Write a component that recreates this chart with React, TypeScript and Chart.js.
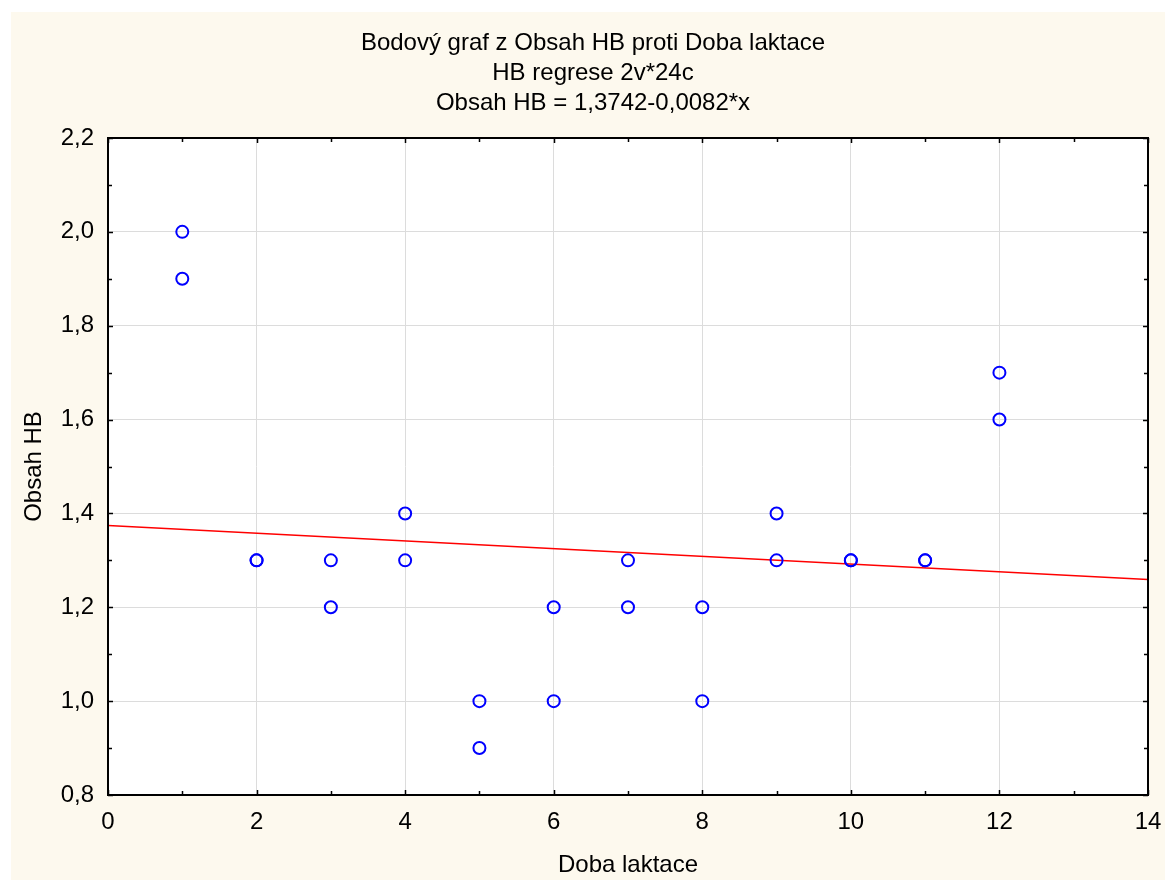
import React, { useEffect, useRef } from "react";
import { Chart, registerables } from "chart.js";

Chart.register(...registerables);

const titleLines = [
  "Bodový graf z Obsah HB proti Doba laktace",
  "HB regrese 2v*24c",
  "Obsah HB = 1,3742-0,0082*x",
];
const xAxisTitle = "Doba laktace";
const yAxisTitle = "Obsah HB";

const dobaLaktace = [1, 1, 2, 2, 3, 3, 4, 4, 5, 5, 6, 6, 7, 7, 8, 8, 9, 9, 10, 10, 11, 11, 12, 12];
const obsahHB = [2.0, 1.9, 1.3, 1.3, 1.3, 1.2, 1.4, 1.3, 1.0, 0.9, 1.2, 1.0, 1.3, 1.2, 1.2, 1.0, 1.4, 1.3, 1.3, 1.3, 1.3, 1.3, 1.7, 1.6];

const regresX = [0, 14];
const regresY = [1.3742, 1.2594];

const xTicks = [0, 2, 4, 6, 8, 10, 12, 14];
const yTicks = [0.8, 1.0, 1.2, 1.4, 1.6, 1.8, 2.0, 2.2];
const xMinorTicks = [1, 3, 5, 7, 9, 11, 13];
const yMinorTicks = [0.9, 1.1, 1.3, 1.5, 1.7, 1.9, 2.1];

const FONT = "Arial, 'Liberation Sans', sans-serif";

const framePlugin = {
  id: "frame",
  beforeDraw(chart: any) {
    const { ctx, chartArea: a } = chart;
    ctx.save();
    ctx.fillStyle = "#ffffff";
    ctx.fillRect(a.left, a.top, a.right - a.left, a.bottom - a.top);
    ctx.restore();
  },
  afterDraw(chart: any) {
    const { ctx, chartArea: a, scales } = chart;
    const xs = scales.x;
    const ys = scales.y;
    ctx.save();
    ctx.strokeStyle = "#000000";
    ctx.lineWidth = 1.5;
    ctx.beginPath();
    const xTick = (v: number, len: number) => {
      const px = Math.round(xs.getPixelForValue(v)) + 0.5;
      ctx.moveTo(px, a.bottom);
      ctx.lineTo(px, a.bottom - len);
      ctx.moveTo(px, a.top);
      ctx.lineTo(px, a.top + len);
    };
    const yTick = (v: number, len: number) => {
      const py = Math.round(ys.getPixelForValue(v)) + 0.5;
      ctx.moveTo(a.left, py);
      ctx.lineTo(a.left + len, py);
      ctx.moveTo(a.right, py);
      ctx.lineTo(a.right - len, py);
    };
    xTicks.forEach((v) => xTick(v, 5));
    xMinorTicks.forEach((v) => xTick(v, 4));
    yTicks.forEach((v) => yTick(v, 5));
    yMinorTicks.forEach((v) => yTick(v, 4));
    ctx.stroke();
    ctx.lineWidth = 2;
    ctx.strokeRect(a.left, a.top, a.right - a.left, a.bottom - a.top);
    ctx.restore();
  },
};

export default function App() {
  const canvasRef = useRef<HTMLCanvasElement | null>(null);

  useEffect(() => {
    if (!canvasRef.current) return;
    const chart = new Chart(canvasRef.current, {
      type: "scatter",
      data: {
        datasets: [
          {
            label: "Obsah HB",
            data: dobaLaktace.map((x, i) => ({ x, y: obsahHB[i] })),
            pointStyle: "circle",
            pointRadius: 6,
            pointBorderWidth: 2,
            pointBorderColor: "#0000ff",
            pointBackgroundColor: "rgba(0,0,0,0)",
            borderColor: "#0000ff",
            backgroundColor: "rgba(0,0,0,0)",
            order: 0,
          },
          {
            label: "Regrese",
            data: regresX.map((x, i) => ({ x, y: regresY[i] })),
            showLine: true,
            borderColor: "#ff0000",
            borderWidth: 1.5,
            pointRadius: 0,
            fill: false,
            order: 1,
          } as any,
        ],
      },
      options: {
        responsive: false,
        animation: false,
        devicePixelRatio: 1,
        layout: { padding: { left: 27, right: 17, top: 0, bottom: 0 } },
        plugins: {
          legend: { display: false },
          tooltip: { enabled: false },
          title: {
            display: true,
            text: titleLines,
            color: "#000000",
            font: { family: FONT, size: 24, weight: "normal", lineHeight: 1.25 },
            padding: { top: 16, bottom: 20 },
          },
        },
        scales: {
          x: {
            type: "linear",
            min: 0,
            max: 14,
            afterBuildTicks: (s: any) => {
              s.ticks = xTicks.map((v) => ({ value: v }));
            },
            afterFit: (s: any) => {
              s.height = 85;
              s.paddingLeft = 0;
              s.paddingRight = 0;
            },
            ticks: {
              autoSkip: false,
              maxRotation: 0,
              color: "#000000",
              padding: 13,
              font: { family: FONT, size: 24 },
              callback: (v: any) => String(v),
            },
            grid: { color: "#dcdcdc", lineWidth: 1, drawTicks: false },
            border: { display: false },
            title: {
              display: true,
              text: xAxisTitle,
              color: "#000000",
              font: { family: FONT, size: 24 },
              padding: { top: 0, bottom: 0 },
            },
          },
          y: {
            type: "linear",
            min: 0.8,
            max: 2.2,
            afterBuildTicks: (s: any) => {
              s.ticks = yTicks.map((v) => ({ value: v }));
            },
            afterFit: (s: any) => {
              s.width = 70;
            },
            ticks: {
              autoSkip: false,
              color: "#000000",
              padding: 14,
              font: { family: FONT, size: 24 },
              callback: (v: any) => Number(v).toFixed(1).replace(".", ","),
            },
            grid: { color: "#dcdcdc", lineWidth: 1, drawTicks: false },
            border: { display: false },
            title: {
              display: true,
              text: yAxisTitle,
              color: "#000000",
              font: { family: FONT, size: 24 },
              padding: { top: -18, bottom: 0 },
            },
          },
        },
      } as any,
      plugins: [framePlugin],
    });
    return () => chart.destroy();
  }, []);

  return (
    <div
      style={{
        position: "fixed",
        left: 11,
        top: 12,
        width: 1154,
        height: 868,
        background: "#fdf9ee",
      }}
    >
      <canvas ref={canvasRef} width={1154} height={868} style={{ display: "block" }} />
    </div>
  );
}
